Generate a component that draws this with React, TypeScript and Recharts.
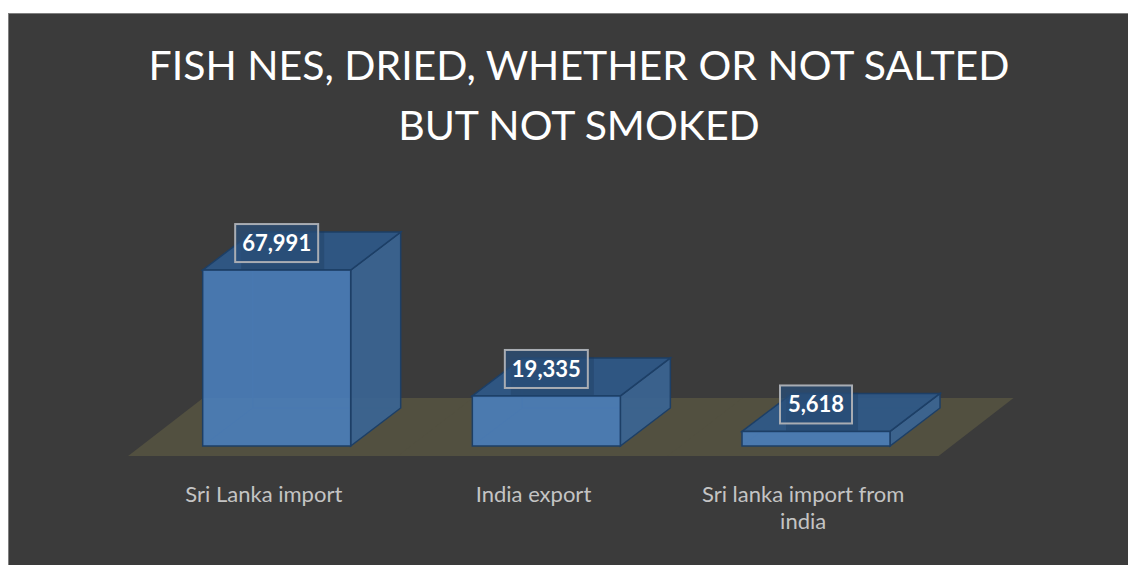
import React from "react";
import { BarChart, Bar, XAxis, YAxis, LabelList } from "recharts";

const categories = ["Sri Lanka import", "India export", "Sri lanka import from india"];
const values = [67991, 19335, 5618];
const yTicks = [0, 20000, 40000, 60000, 80000];

const data = categories.map((name, i) => ({ name, value: values[i], floor: 1 }));

const FONT = "Lato, 'Open Sans', sans-serif";
const GAP = 0.225; // barCategoryGap per side
const DX = 50;
const DY = -38;

function FloorShape(props: any) {
  const { x, width, y, height } = props;
  const ext = (width * GAP) / (1 - 2 * GAP);
  const base = y + height;
  const x0 = x - ext - 13 - 1;
  const x1 = x + width + ext - 13 + 1;
  const fy = base + 10;
  const by = base - 48;
  const s = 75;
  return <polygon points={`${x0},${fy} ${x1},${fy} ${x1 + s},${by} ${x0 + s},${by}`} fill="#525040" />;
}

function Box3D(props: any) {
  const { x, y, width: w, height: h } = props;
  const edge = "#1d3f66";
  return (
    <g>
      {/* hidden back edges */}
      <polyline
        points={`${x},${y + h} ${x + DX},${y + h + DY} ${x + w + DX},${y + h + DY}`}
        fill="none"
        stroke={edge}
        strokeOpacity={0.35}
      />
      <line x1={x + DX} y1={y + h + DY} x2={x + DX} y2={y + DY} stroke={edge} strokeOpacity={0.35} />
      <polygon
        points={`${x + w},${y} ${x + w + DX},${y + DY} ${x + w + DX},${y + h + DY} ${x + w},${y + h}`}
        fill="#3b6594"
        fillOpacity={0.92}
        stroke={edge}
        strokeWidth={1.5}
      />
      <polygon
        points={`${x},${y} ${x + DX},${y + DY} ${x + w + DX},${y + DY} ${x + w},${y}`}
        fill="#2f5989"
        fillOpacity={0.92}
        stroke={edge}
        strokeWidth={1.5}
      />
      <rect x={x} y={y} width={w} height={h} fill="#4a7ebb" fillOpacity={0.9} stroke={edge} strokeWidth={1.5} />
    </g>
  );
}

function ValueLabel(props: any) {
  const { x, y, width, value } = props;
  const text = Number(value).toLocaleString("en-US");
  const bw = text.length * 11 + 17;
  const cx = x + width / 2;
  const cy = y - 27;
  return (
    <g>
      <rect x={cx - bw / 2 + 6} y={cy - 12} width={bw} height={38} fill="#1e3a5c" fillOpacity={0.35} />
      <rect
        x={cx - bw / 2}
        y={cy - 19}
        width={bw}
        height={38}
        fill="#2a4f7a"
        fillOpacity={0.75}
        stroke="#a9adb3"
        strokeWidth={2}
      />
      <text x={cx} y={cy + 8} textAnchor="middle" fill="#ffffff" fontFamily={FONT} fontWeight={700} fontSize={22}>
        {text}
      </text>
    </g>
  );
}

// greedy word wrap by character count
function wrap(label: string, max = 22) {
  const lines: string[] = [];
  let cur = "";
  label.split(" ").forEach((w) => {
    const next = cur ? cur + " " + w : w;
    if (next.length > max && cur) {
      lines.push(cur);
      cur = w;
    } else cur = next;
  });
  if (cur) lines.push(cur);
  return lines;
}

function CatTick(props: any) {
  const { x, y, payload } = props;
  const lines = wrap(payload.value);
  return (
    <text x={x - 13} y={y + 56} textAnchor="middle" fill="#c4c4c4" fontFamily={FONT} fontSize={22}>
      {lines.map((l, i) => (
        <tspan key={i} x={x - 13} dy={i === 0 ? 0 : 27}>
          {l}
        </tspan>
      ))}
    </text>
  );
}

export default function App() {
  return (
    <div
      style={{
        position: "fixed",
        top: 13,
        left: 8,
        boxSizing: "border-box",
        width: 1140,
        height: 560,
        background: "#3b3b3b",
        borderTop: "1px solid #7f7f7f",
        borderLeft: "1px solid #7f7f7f",
        overflow: "hidden",
      }}
    >
      <div
        style={{
          position: "absolute",
          top: 21,
          left: 0,
          width: 1140,
          textAlign: "center",
          color: "#ffffff",
          fontFamily: FONT,
          fontSize: 41,
          lineHeight: "60px",
        }}
      >
        FISH NES, DRIED, WHETHER OR NOT SALTED
        <br />
        BUT NOT SMOKED
      </div>
      <BarChart
        width={1119}
        height={551}
        data={data}
        margin={{ top: 225, right: 177, bottom: 89, left: 133 }}
        barCategoryGap={`${GAP * 100}%`}
        style={{ position: "absolute", top: 0, left: 0 }}
      >
        <XAxis dataKey="name" xAxisId="floor" hide />
        <YAxis yAxisId="floor" domain={[0, 1]} hide />
        <XAxis
          dataKey="name"
          height={30}
          axisLine={false}
          tickLine={false}
          tickSize={0}
          tickMargin={0}
          interval={0}
          tick={<CatTick />}
        />
        <YAxis domain={[0, 80000]} ticks={yTicks} hide />
        <Bar dataKey="floor" xAxisId="floor" yAxisId="floor" shape={<FloorShape />} isAnimationActive={false} />
        <Bar dataKey="value" shape={<Box3D />} isAnimationActive={false}>
          <LabelList dataKey="value" content={<ValueLabel />} />
        </Bar>
      </BarChart>
    </div>
  );
}
